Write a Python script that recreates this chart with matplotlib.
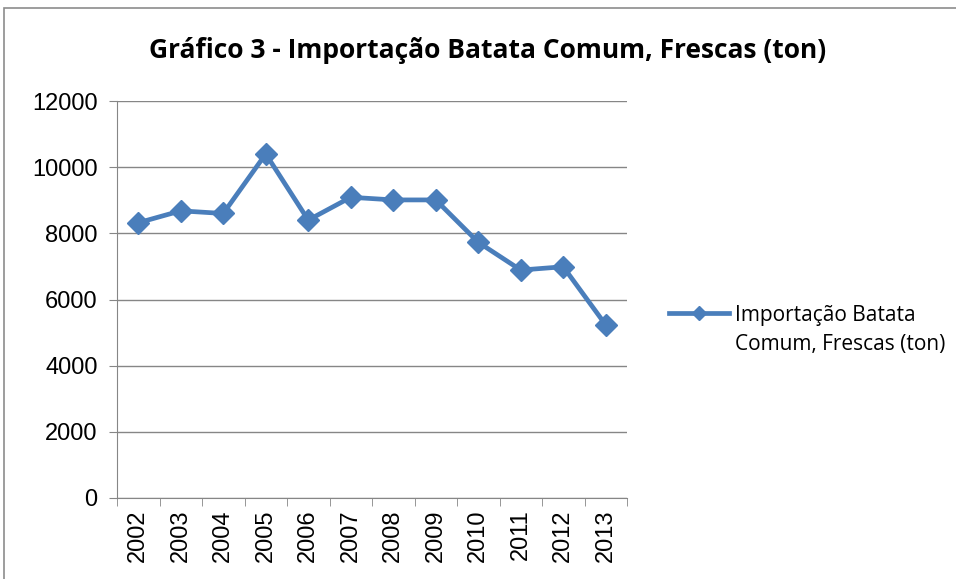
import numpy as np
import matplotlib.pyplot as plt
from matplotlib.patches import Rectangle

years = ["2002", "2003", "2004", "2005", "2006", "2007",
         "2008", "2009", "2010", "2011", "2012", "2013"]
imports_ton = [8320, 8680, 8600, 10400, 8400, 9090,
               9010, 9010, 7730, 6890, 6990, 5230]
series_name = "Importação Batata\nComum, Frescas (ton)"
title = "Gráfico 3 - Importação Batata Comum, Frescas (ton)"

blue = "#4a7ebb"
grid_gray = "#868686"

fig = plt.figure(figsize=(9.56, 5.79), dpi=100)
fig.patches.append(Rectangle((4 / 956, -0.01), 1.0, 1 - 8 / 579 + 0.01,
                             transform=fig.transFigure, fill=False,
                             edgecolor="#8c8c8c", linewidth=1.2))

ax = fig.add_axes([117 / 956, 1 - 498 / 579, 510 / 956, 397 / 579])
x = np.arange(len(years))
line, = ax.plot(x, imports_ton, color=blue, linewidth=3.4, marker="D",
                markersize=11.5, markeredgecolor=blue, zorder=3)

ax.set_xlim(-0.5, len(years) - 0.5)
ax.set_ylim(0, 12000)
ax.set_yticks(np.arange(0, 12001, 2000))
ax.yaxis.grid(True, color=grid_gray, linewidth=1)
ax.set_axisbelow(True)

ax.set_xticks(x)
ax.set_xticklabels(years, rotation=90, fontsize=17, family="Liberation Sans")
ax.set_xticks(np.arange(-0.5, len(years), 1), minor=True)
ax.tick_params(axis="x", which="major", length=0, pad=8)
ax.tick_params(axis="x", which="minor", length=6, color=grid_gray)
ax.tick_params(axis="y", length=6, color=grid_gray, labelsize=17, pad=8)
for lab in ax.get_yticklabels():
    lab.set_family("Liberation Sans")

for side in ["top", "right"]:
    ax.spines[side].set_visible(False)
for side in ["left", "bottom"]:
    ax.spines[side].set_color(grid_gray)

fig.text(0.51, 1 - 50 / 579, title, ha="center", va="center",
         fontsize=19, fontweight="bold", family="Open Sans")

leg = fig.legend([line], [series_name], loc="center left",
                 bbox_to_anchor=(650 / 956, 1 - 330 / 579), frameon=False,
                 handlelength=2.9, prop={"family": "Open Sans", "size": 15},
                 markerscale=0.6, handletextpad=0.3)
leg.get_texts()[0].set_linespacing(1.45)
# put the legend line next to the first text line, like Excel does
for column in leg._legend_handle_box.get_children():
    for item in column.get_children():
        item.align = "top"

plt.savefig("out.png", dpi=100)
